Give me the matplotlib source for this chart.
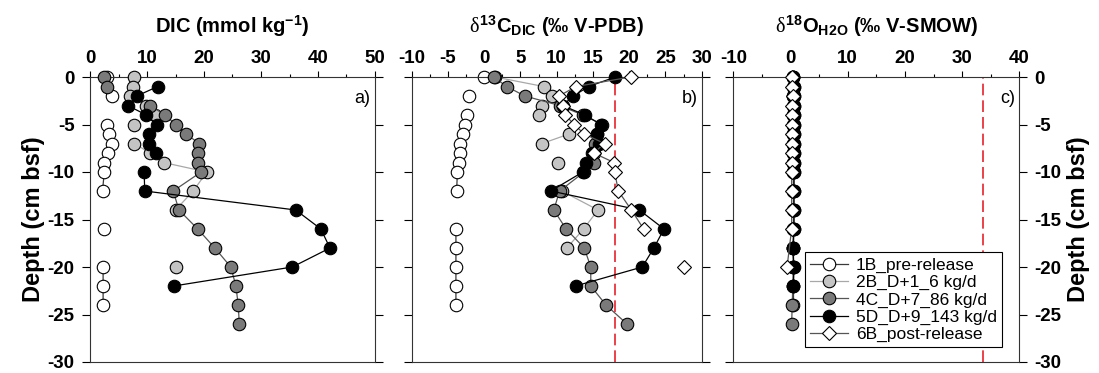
import numpy as np
import matplotlib
matplotlib.use("Agg")
import matplotlib.pyplot as plt
from matplotlib.ticker import MultipleLocator
from matplotlib.lines import Line2D

nan = np.nan
plt.rcParams['font.family'] = ['Liberation Sans', 'DejaVu Sans']
plt.rcParams['axes.unicode_minus'] = False
plt.rcParams['mathtext.fontset'] = 'custom'
plt.rcParams['mathtext.rm'] = 'Liberation Sans:bold'
plt.rcParams['mathtext.bf'] = 'Liberation Sans:bold'
plt.rcParams['mathtext.it'] = 'Liberation Serif'

series_names = ['1B_pre-release', '2B_D+1_6 kg/d', '4C_D+7_86 kg/d',
                '5D_D+9_143 kg/d', '6B_post-release']

# ---------------- Panel a: DIC (mmol/kg) ----------------
a_1B_depth = [0, nan, -2, nan, -5, -6, -7, -8, -9, -10, -12, nan, -16, nan, -20, -22, -24]
a_1B_val   = [3.0, nan, 3.9, nan, 2.9, 3.3, 3.9, 3.2, 2.5, 2.5, 2.2, nan, 2.4, nan, 2.3, 2.3, 2.3]
a_2B_depth = [0, -1, -2, -3, -4, nan, -5, nan, -7, -8, -9, -10, -12, -14, nan, -20]
a_2B_val   = [7.8, 7.5, 7.0, 9.8, 11.4, nan, 7.8, nan, 7.8, 10.5, 12.9, 20.5, 18.1, 15.0, nan, 15.0]
a_4C_depth = [0, -1, nan, -3, -4, -5, -6, -7, -8, -9, -10, -12, -14, -16, -18, -20, -22, -24, -26]
a_4C_val   = [2.5, 2.9, nan, 10.5, 13.2, 15.0, 16.8, 19.2, 18.9, 18.9, 19.5, 14.6, 15.6, 18.9, 21.9, 24.7, 25.6, 26.0, 26.2]
a_5D_depth = [-1, -2, -3, -4, -5, -6, -7, -8, nan, -10, -12, -14, -16, -18, -20, -22]
a_5D_val   = [11.9, 8.2, 6.6, 9.9, 11.7, 10.4, 10.4, 11.6, nan, 9.5, 9.6, 36.1, 40.5, 42.1, 35.5, 14.7]
a_6B_depth = []
a_6B_val   = []

# ---------------- Panel b: d13C DIC ----------------
b_1B_depth = [0, nan, -2, nan, -4, -5, -6, -7, -8, -9, -10, -12, nan, -16, -18, -20, -22, -24]
b_1B_val   = [0.0, nan, -2.05, nan, -2.4, -2.6, -2.9, -3.3, -3.4, -3.5, -3.7, -3.8, nan, -3.9, -3.9, -3.9, -3.9, -3.9]
b_2B_depth = [0, -1, -2, -3, -4, nan, -6, -7, nan, -9, nan, -12, -14, -16, -18]
b_2B_val   = [1.5, 8.2, 9.4, 8.0, 7.5, nan, 11.7, 8.0, nan, 10.2, nan, 10.7, 15.7, 13.7, 11.4]
b_4C_depth = [0, -1, -2, -3, -4, -5, -6, -7, -8, -9, -10, -12, -14, -16, -18, -20, -22, -24, -26]
b_4C_val   = [1.3, 3.1, 5.6, 10.4, 13.6, 16.3, 15.6, 15.3, 15.1, 15.1, 13.8, 10.4, 9.6, 11.3, 13.8, 14.7, 14.7, 16.8, 19.7]
b_5D_depth = [0, -1, -2, -3, -4, -5, -6, -7, -8, -9, -10, -12, -14, -16, -18, -20, -22]
b_5D_val   = [18.1, 14.4, 12.3, 10.8, 13.9, 16.1, 15.5, 15.8, 14.8, 14.0, 13.6, 9.2, 21.4, 24.8, 23.4, 21.8, 12.6]
b_6B_depth = [0, -1, -2, -3, -4, -5, -6, -7, -8, -9, -10, -12, -14, -16, nan, -20]
b_6B_val   = [20.2, 12.7, 10.3, 10.8, 11.2, 12.4, 13.8, 16.6, 15.1, 17.9, 18.0, 18.5, 20.3, 22.0, nan, 27.5]

# ---------------- Panel c: d18O H2O ----------------
c_1B_depth = [0, nan, -2, nan, -4, -5, -6, -7, -8, -9, -10, -12, nan, -16, -18, -20, -22, -24]
c_1B_val   = [0.4, nan, 0.4, nan, 0.4, 0.4, 0.4, 0.4, 0.4, 0.4, 0.4, 0.4, nan, 0.4, 0.4, 0.4, 0.4, 0.4]
c_2B_depth = [0, -1, -2, -3, -4, -5, -6, -7, -8, -9, -10, -12, -14, -16, -18, -20]
c_2B_val   = [0.4, 0.5, 0.5, 0.5, 0.5, 0.5, 0.5, 0.5, 0.5, 0.5, 0.5, 0.5, 0.5, 0.5, 0.5, 0.5]
c_4C_depth = [0, -1, -2, -3, -4, -5, -6, -7, -8, -9, -10, -12, -14, -16, -18, -20, -22, -24, -26]
c_4C_val   = [0.5, 0.6, 0.6, 0.6, 0.6, 0.6, 0.6, 0.6, 0.6, 0.6, 0.6, 0.6, 0.6, 0.6, 0.5, 0.5, 0.4, 0.3, 0.2]
c_5D_depth = [0, -1, -2, -3, -4, -5, -6, -7, -8, -9, -10, -12, -14, -16, -18, -20, -22]
c_5D_val   = [0.5, 0.6, 0.6, 0.6, 0.6, 0.6, 0.6, 0.6, 0.6, 0.6, 0.6, 0.6, 0.6, 0.6, 0.4, 0.6, 0.5]
c_6B_depth = [0, -1, -2, -3, -4, -5, -6, -7, -8, -9, -10, -12, -14, -16, -20]
c_6B_val   = [0.3, 0.3, 0.4, 0.3, 0.3, 0.3, 0.3, 0.3, 0.3, 0.3, 0.2, 0.2, 0.2, 0.2, -0.6]

ref_b = 18.0
ref_c = 33.7

panel_titles = [r'DIC (mmol kg$^{\mathregular{-1}}$)',
                r'$\mathit{\delta}^{13}$C$_{\mathregular{DIC}}$ (‰ V-PDB)',
                r'$\mathit{\delta}^{18}$O$_{\mathregular{H2O}}$ (‰ V-SMOW)']
panel_letters = ['a)', 'b)', 'c)']
xlims = [(0, 50), (-10, 30), (-10, 40)]
xmajor = [10, 5, 10]
xminor = [5, 2.5, 5]

faces = ['white', '#c4c4c4', '#7a7a7a', 'black', 'white']
lcols = ['#3a3a3a', '#a8a8a8', '#555555', 'black', '#555555']
marks = ['o', 'o', 'o', 'o', 'D']
msizes = [9, 9, 9, 9, 7.5]

data = [
    [(a_1B_depth, a_1B_val), (a_2B_depth, a_2B_val), (a_4C_depth, a_4C_val),
     (a_5D_depth, a_5D_val), (a_6B_depth, a_6B_val)],
    [(b_1B_depth, b_1B_val), (b_2B_depth, b_2B_val), (b_4C_depth, b_4C_val),
     (b_5D_depth, b_5D_val), (b_6B_depth, b_6B_val)],
    [(c_1B_depth, c_1B_val), (c_2B_depth, c_2B_val), (c_4C_depth, c_4C_val),
     (c_5D_depth, c_5D_val), (c_6B_depth, c_6B_val)],
]

W, H = 1099, 373
fig = plt.figure(figsize=(W / 100, H / 100), dpi=100)
lefts = [90, 411.7, 733.3]
widths = [285, 290, 286]
top_px, bot_px = 77, 362

axes = []
for i in range(3):
    ax = fig.add_axes([lefts[i] / W, (H - bot_px) / H, widths[i] / W, (bot_px - top_px) / H])
    axes.append(ax)
    for j in range(5):
        d, v = data[i][j]
        if len(d) == 0:
            continue
        ax.plot(v, d, color=lcols[j], lw=0.9, marker=marks[j], ms=msizes[j],
                mfc=faces[j], mec='black', mew=0.8, zorder=2 + j, clip_on=False)
    ax.set_xlim(*xlims[i])
    ax.set_ylim(-30, 0)
    ax.xaxis.set_major_locator(MultipleLocator(xmajor[i]))
    ax.xaxis.set_minor_locator(MultipleLocator(xminor[i]))
    ax.yaxis.set_major_locator(MultipleLocator(5))
    ax.xaxis.tick_top()
    ax.tick_params(axis='x', which='both', top=True, bottom=False, direction='out',
                   labelsize=13.5, pad=3)
    ax.tick_params(axis='x', which='major', length=4, width=0.8)
    ax.tick_params(axis='x', which='minor', length=2.5, width=0.8)
    ax.tick_params(axis='y', which='major', left=True, right=True, direction='out',
                   length=6, width=0.8, labelsize=13.5, pad=5,
                   labelleft=(i == 0), labelright=(i == 2))
    for lab in ax.get_xticklabels() + ax.get_yticklabels():
        lab.set_fontweight('bold')
    for sp in ax.spines.values():
        sp.set_linewidth(0.8)
        sp.set_color('#333333')
    ax.text(0.985, 0.925, panel_letters[i], transform=ax.transAxes, ha='right',
            va='center', fontsize=13)
    ax.set_title(panel_titles[i], fontsize=14.5, fontweight='bold', pad=32)

axes[1].axvline(ref_b, color='#e8202a', lw=1.2, ls=(0, (7, 3)), zorder=1)
axes[2].axvline(ref_c, color='#e8202a', lw=1.2, ls=(0, (7, 3)), zorder=1)

axes[0].set_ylabel('Depth (cm bsf)', fontsize=17, fontweight='bold', labelpad=2)
axes[2].yaxis.set_label_position('right')
axes[2].set_ylabel('Depth (cm bsf)', fontsize=17, fontweight='bold', labelpad=4)

handles = [Line2D([], [], color=lcols[j], lw=0.9, marker=marks[j], ms=msizes[j],
                  mfc=faces[j], mec='black', mew=0.8) for j in range(5)]
leg = axes[2].legend(handles, series_names, loc='upper left',
                     bbox_to_anchor=(0.25, 0.385), fontsize=12.5, frameon=True,
                     fancybox=False, edgecolor='black', framealpha=1,
                     handlelength=2.2, handletextpad=0.45, labelspacing=0.12,
                     borderpad=0.3, borderaxespad=0)
leg.get_frame().set_linewidth(0.8)
leg.set_zorder(1.5)

fig.savefig('out.png', dpi=100)
